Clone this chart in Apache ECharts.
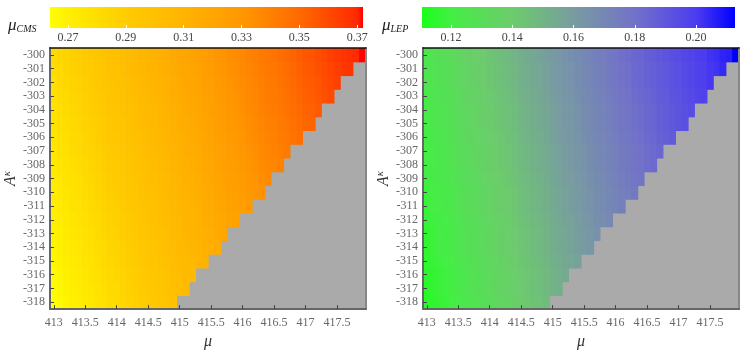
<!DOCTYPE html>
<html>
<head>
<meta charset="utf-8">
<title>mu_CMS / mu_LEP</title>
<script src="https://cdn.jsdelivr.net/npm/echarts@6/dist/echarts.min.js"></script>
<style>
  *{margin:0;padding:0;}
  body{background:#fff;}
  #chart{width:747px;height:355px;}
</style>
</head>
<body>
<div id="chart"></div>
<script>
// grid of the scan
var muValues = [413.0,413.1,413.2,413.3,413.4,413.5,413.6,413.7,413.8,413.9,
                414.0,414.1,414.2,414.3,414.4,414.5,414.6,414.7,414.8,414.9,
                415.0,415.1,415.2,415.3,415.4,415.5,415.6,415.7,415.8,415.9,
                416.0,416.1,416.2,416.3,416.4,416.5,416.6,416.7,416.8,416.9,
                417.0,417.1,417.2,417.3,417.4,417.5,417.6,417.7,417.8,417.9];
var aKappa = [-300,-301,-302,-303,-304,-305,-306,-307,-308,-309,-310,-311,-312,-313,-314,-315,-316,-317,-318];

var muTicks = [413,413.5,414,414.5,415,415.5,416,416.5,417,417.5];
var cmsTicks = [0.27,0.29,0.31,0.33,0.35,0.37];
var lepTicks = [0.12,0.14,0.16,0.18,0.20];
var cmsRange = [0.2638, 0.372];
var lepRange = [0.1105, 0.2127];

// mu_CMS x1000, one row per A_kappa, starting at mu = 413.0 (row ends where the grey region starts)
var cmsRows = [
  [282,284,286,288,289,291,293,295,297,299,300,302,304,306,308,310,311,313,315,317,319,321,322,324,326,328,330,332,334,335,337,339,341,343,345,346,348,350,352,354,356,357,359,361,363,365,367,368,370,372],
  [281,283,285,287,288,290,292,294,296,298,299,301,303,305,307,309,310,312,314,316,318,320,321,323,325,327,329,331,333,334,336,338,340,342,344,345,347,349,351,353,355,356,358,360,362,364,366,367],
  [280,282,284,286,287,289,291,293,295,297,298,300,302,304,306,308,309,311,313,315,317,319,320,322,324,326,328,330,332,333,335,337,339,341,343,344,346,348,350,352,354,355,357,359,361,363],
  [279,281,283,285,286,288,290,292,294,296,297,299,301,303,305,307,308,310,312,314,316,318,319,321,323,325,327,329,331,332,334,336,338,340,342,343,345,347,349,351,353,354,356,358,360],
  [278,280,282,284,285,287,289,291,293,295,296,298,300,302,304,306,307,309,311,313,315,317,318,320,322,324,326,328,330,331,333,335,337,339,341,342,344,346,348,350,352,353,355],
  [277,279,281,283,284,286,288,290,292,294,295,297,299,301,303,305,306,308,310,312,314,316,317,319,321,323,325,327,329,330,332,334,336,338,340,341,343,345,347,349,351,352],
  [276,278,280,282,283,285,287,289,291,293,294,296,298,300,302,304,305,307,309,311,313,315,316,318,320,322,324,326,328,329,331,333,335,337,339,340,342,344,346,348],
  [275,277,279,281,282,284,286,288,290,292,293,295,297,299,301,303,304,306,308,310,312,314,315,317,319,321,323,325,327,328,330,332,334,336,338,339,341,343],
  [274,276,278,280,281,283,285,287,289,291,292,294,296,298,300,302,303,305,307,309,311,313,314,316,318,320,322,324,326,327,329,331,333,335,337,338,340],
  [273,275,277,279,280,282,284,286,288,290,291,293,295,297,299,301,302,304,306,308,310,312,313,315,317,319,321,323,325,326,328,330,332,334,336],
  [272,274,276,278,279,281,283,285,287,289,290,292,294,296,298,300,301,303,305,307,309,311,312,314,316,318,320,322,324,325,327,329,331,333],
  [271,273,275,277,278,280,282,284,286,288,289,291,293,295,297,299,300,302,304,306,308,310,311,313,315,317,319,321,323,324,326,328],
  [270,272,274,276,277,279,281,283,285,287,288,290,292,294,296,298,299,301,303,305,307,309,310,312,314,316,318,320,322,323],
  [269,271,273,275,276,278,280,282,284,286,287,289,291,293,295,297,298,300,302,304,306,308,309,311,313,315,317,319],
  [268,270,272,274,275,277,279,281,283,285,286,288,290,292,294,296,297,299,301,303,305,307,308,310,312,314,316],
  [267,269,271,273,274,276,278,280,282,284,285,287,289,291,293,295,296,298,300,302,304,306,307,309,311],
  [266,268,270,272,273,275,277,279,281,283,284,286,288,290,292,294,295,297,299,301,303,305,306],
  [265,267,269,271,272,274,276,278,280,282,283,285,287,289,291,293,294,296,298,300,302,304],
  [264,266,268,270,271,273,275,277,279,281,282,284,286,288,290,292,293,295,297,299]
];

// mu_LEP x1000, same layout
var lepRows = [
  [125,127,129,130,132,134,136,138,139,141,143,145,147,148,150,152,154,156,157,159,161,163,165,166,168,170,172,174,175,177,179,181,182,184,185,187,188,190,191,193,194,196,197,199,200,202,203,205,206,213],
  [124,126,128,129,131,133,135,137,138,140,142,144,146,147,149,151,153,155,156,158,160,162,164,165,167,169,171,173,174,176,178,180,181,183,184,186,187,189,190,192,193,195,196,198,199,201,202,204],
  [124,126,128,129,131,133,135,137,138,140,142,144,146,147,149,151,153,155,156,158,160,162,164,165,167,169,171,173,174,176,178,180,181,183,184,186,187,189,190,192,193,195,196,198,199,201],
  [123,125,127,128,130,132,134,136,137,139,141,143,145,146,148,150,152,154,155,157,159,161,163,164,166,168,170,172,173,175,177,179,180,182,183,185,186,188,189,191,192,194,195,197,198],
  [122,124,126,127,129,131,133,135,136,138,140,142,144,145,147,149,151,153,154,156,158,160,162,163,165,167,169,171,172,174,176,178,179,181,182,184,185,187,188,190,191,193,194],
  [122,124,126,127,129,131,133,135,136,138,140,142,144,145,147,149,151,153,154,156,158,160,162,163,165,167,169,171,172,174,176,178,179,181,182,184,185,187,188,190,191,193],
  [121,123,125,126,128,130,132,134,135,137,139,141,143,144,146,148,150,152,153,155,157,159,161,162,164,166,168,170,171,173,175,177,178,180,181,183,184,186,187,189],
  [120,122,124,125,127,129,131,133,134,136,138,140,142,143,145,147,149,151,152,154,156,158,160,161,163,165,167,169,170,172,174,176,177,179,180,182,183,185],
  [120,122,124,125,127,129,131,133,134,136,138,140,142,143,145,147,149,151,152,154,156,158,160,161,163,165,167,169,170,172,174,176,177,179,180,182,183],
  [119,121,123,124,126,128,130,132,133,135,137,139,141,142,144,146,148,150,151,153,155,157,159,160,162,164,166,168,169,171,173,175,176,178,179],
  [118,120,122,123,125,127,129,131,132,134,136,138,140,141,143,145,147,149,150,152,154,156,158,159,161,163,165,167,168,170,172,174,175,177],
  [118,120,122,123,125,127,129,131,132,134,136,138,140,141,143,145,147,149,150,152,154,156,158,159,161,163,165,167,168,170,172,174],
  [117,119,121,122,124,126,128,130,131,133,135,137,139,140,142,144,146,148,149,151,153,155,157,158,160,162,164,166,167,169],
  [116,118,120,121,123,125,127,129,130,132,134,136,138,139,141,143,145,147,148,150,152,154,156,157,159,161,163,165],
  [116,118,120,121,123,125,127,129,130,132,134,136,138,139,141,143,145,147,148,150,152,154,156,157,159,161,163],
  [115,117,119,120,122,124,126,128,129,131,133,135,137,138,140,142,144,146,147,149,151,153,155,156,158],
  [114,116,118,119,121,123,125,127,128,130,132,134,136,137,139,141,143,145,146,148,150,152,154],
  [114,116,118,119,121,123,125,127,128,130,132,134,136,137,139,141,143,145,146,148,150,152],
  [113,115,117,118,120,122,124,126,127,129,131,133,135,136,138,140,142,144,145,147]
];

// colour maps: [value, colour]
var cmsColors = [[0.2638,'#ffff00'],[0.27,'#fff000'],[0.29,'#ffcc00'],[0.31,'#ffb400'],[0.33,'#ff9800'],[0.35,'#ff6a00'],[0.37,'#ff2a00'],[0.372,'#ff0000']];
var lepColors = [[0.1105,'#1aff1a'],[0.12,'#44ee44'],[0.14,'#6ccc6c'],[0.16,'#789ca0'],[0.18,'#7272c8'],[0.20,'#4c3cf0'],[0.2127,'#0000ff']];

var serif = '"Liberation Serif", "DejaVu Serif", serif';

function hexRgb(h) {
  return [parseInt(h.slice(1,3),16), parseInt(h.slice(3,5),16), parseInt(h.slice(5,7),16)];
}
function colorAt(v, map) {
  if (v <= map[0][0]) return map[0][1];
  for (var k = 1; k < map.length; k++) {
    if (v <= map[k][0]) {
      var a = hexRgb(map[k-1][1]), b = hexRgb(map[k][1]);
      var t = (v - map[k-1][0]) / (map[k][0] - map[k-1][0]);
      return 'rgb(' + [0,1,2].map(function (j) { return Math.round(a[j] + (b[j] - a[j]) * t); }).join(',') + ')';
    }
  }
  return map[map.length-1][1];
}
function toData(rows) {
  var out = [];
  rows.forEach(function (row, r) {
    row.forEach(function (v, i) { out.push([muValues[i], aKappa[r], v / 1000]); });
  });
  return out;
}
function cellRenderer(map) {
  return function (params, api) {
    var p0 = api.coord([api.value(0) - 0.05, api.value(1) + 0.5]);
    var p1 = api.coord([api.value(0) + 0.05, api.value(1) - 0.5]);
    return {
      type: 'rect',
      shape: {x: p0[0], y: p0[1], width: p1[0] - p0[0] + 0.6, height: p1[1] - p0[1] + 0.6},
      style: {fill: colorAt(api.value(2), map)}
    };
  };
}
function barRenderer(map, range) {
  return function (params, api) {
    var p0 = api.coord([range[0], 1]);
    var p1 = api.coord([range[1], 0]);
    var stops = map.map(function (s) {
      return {offset: (s[0] - range[0]) / (range[1] - range[0]), color: s[1]};
    });
    return {
      type: 'rect',
      shape: {x: p0[0], y: p0[1], width: p1[0] - p0[0], height: p1[1] - p0[1]},
      style: {fill: new echarts.graphic.LinearGradient(0, 0, 1, 0, stops)}
    };
  };
}

function mainX(grid) {
  return {
    type: 'value', gridIndex: grid, min: 412.94, max: 417.96, z: 10,
    name: 'μ', nameLocation: 'middle', nameGap: 22,
    nameTextStyle: {fontFamily: serif, fontStyle: 'italic', fontSize: 16, color: '#333'},
    axisLine: {lineStyle: {color: '#666', width: 2}},
    axisTick: {inside: true, length: 4, customValues: muTicks, lineStyle: {color: '#444'}},
    axisLabel: {customValues: muTicks, margin: 8, fontFamily: serif, fontSize: 12, color: '#666'},
    splitLine: {show: false}
  };
}
function topX(grid) {
  return {
    type: 'value', gridIndex: grid, position: 'top', min: 412.94, max: 417.96, z: 10,
    axisLine: {lineStyle: {color: '#111', width: 1.5}},
    axisTick: {show: false}, axisLabel: {show: false}, splitLine: {show: false}
  };
}
function mainY(grid) {
  return {
    type: 'value', gridIndex: grid, min: -318.5, max: -299.5, z: 10,
    name: '{a|A}{k|κ}', nameLocation: 'middle', nameGap: 24, nameRotate: 90,
    nameTextStyle: {
      rich: {
        a: {fontFamily: serif, fontStyle: 'italic', fontSize: 16, color: '#333'},
        k: {fontFamily: serif, fontStyle: 'italic', fontSize: 11, color: '#333', verticalAlign: 'top', padding: [0,0,8,0]}
      }
    },
    axisLine: {lineStyle: {color: '#666', width: 2}},
    axisTick: {inside: true, length: 4, customValues: aKappa, lineStyle: {color: '#444'}},
    axisLabel: {customValues: aKappa, margin: 5, fontFamily: serif, fontSize: 12, color: '#666'},
    splitLine: {show: false}
  };
}
function rightY(grid) {
  return {
    type: 'value', gridIndex: grid, position: 'right', min: -318.5, max: -299.5, z: 10,
    axisLine: {lineStyle: {color: '#888', width: 2}},
    axisTick: {show: false}, axisLabel: {show: false}, splitLine: {show: false}
  };
}
function barX(grid, range, ticks) {
  return {
    type: 'value', gridIndex: grid, min: range[0], max: range[1], z: 10,
    axisLine: {show: false},
    axisTick: {inside: true, length: 3, customValues: ticks, lineStyle: {color: '#fff'}},
    axisLabel: {customValues: ticks, margin: 4, fontFamily: serif, fontSize: 12, color: '#444',
      formatter: function (v) { return v.toFixed(2); }},
    splitLine: {show: false}
  };
}
function barY(grid) {
  return {type: 'value', gridIndex: grid, min: 0, max: 1, show: false};
}

var chart = echarts.init(document.getElementById('chart'));
chart.setOption({
  animation: false,
  backgroundColor: '#fff',
  grid: [
    {left: 50, top: 48, width: 316, height: 269, show: true, backgroundColor: '#aaaaaa', borderWidth: 0},
    {left: 423, top: 48, width: 316, height: 269, show: true, backgroundColor: '#aaaaaa', borderWidth: 0},
    {left: 50, top: 7, width: 313, height: 21},
    {left: 422, top: 7, width: 313, height: 21}
  ],
  xAxis: [mainX(0), topX(0), mainX(1), topX(1), barX(2, cmsRange, cmsTicks), barX(3, lepRange, lepTicks)],
  yAxis: [mainY(0), rightY(0), mainY(1), rightY(1), barY(2), barY(3)],
  graphic: [
    {type: 'text', left: 8, top: 17, style: {text: '{m|μ}{s|CMS}', rich: {
      m: {fontFamily: serif, fontStyle: 'italic', fontSize: 17, fill: '#222'},
      s: {fontFamily: serif, fontStyle: 'italic', fontSize: 10, fill: '#222', padding: [8,0,0,0]}
    }}},
    {type: 'text', left: 382, top: 17, style: {text: '{m|μ}{s|LEP}', rich: {
      m: {fontFamily: serif, fontStyle: 'italic', fontSize: 17, fill: '#222'},
      s: {fontFamily: serif, fontStyle: 'italic', fontSize: 10, fill: '#222', padding: [8,0,0,0]}
    }}}
  ],
  series: [
    {type: 'custom', xAxisIndex: 0, yAxisIndex: 0, clip: true, renderItem: cellRenderer(cmsColors), data: toData(cmsRows)},
    {type: 'custom', xAxisIndex: 2, yAxisIndex: 2, clip: true, renderItem: cellRenderer(lepColors), data: toData(lepRows)},
    {type: 'custom', xAxisIndex: 4, yAxisIndex: 4, renderItem: barRenderer(cmsColors, cmsRange), data: [[cmsRange[0], 0]]},
    {type: 'custom', xAxisIndex: 5, yAxisIndex: 5, renderItem: barRenderer(lepColors, lepRange), data: [[lepRange[0], 0]]}
  ]
});
</script>
</body>
</html>
